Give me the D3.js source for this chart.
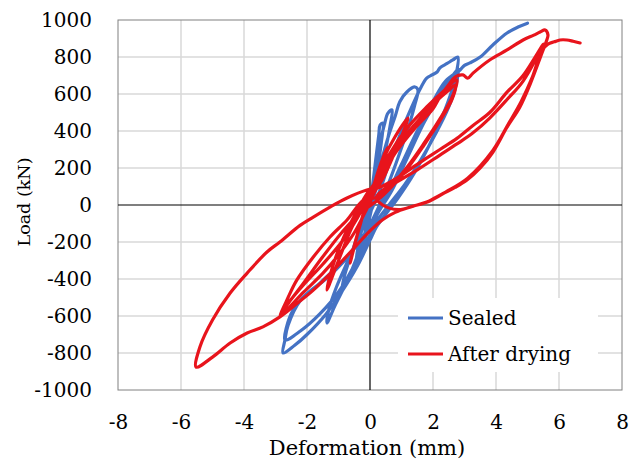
<!DOCTYPE html>
<html><head><meta charset="utf-8">
<script src="https://cdn.jsdelivr.net/npm/d3@7/dist/d3.min.js"></script>
<style>
html,body{margin:0;padding:0;background:#fff;}
text{font-family:"DejaVu Serif",serif;fill:#000;}
</style></head>
<body>
<svg id="chart" width="636" height="465"></svg>
<script>
// ---- data ----
const xTicks = [-8,-6,-4,-2,0,2,4,6,8];
const yTicks = [-1000,-800,-600,-400,-200,0,200,400,600,800,1000];
const seriesNames = ["Sealed","After drying"];

const sealedDeformation = [0,0.1,0.2,0.28,0.32,0.41,
 0.36,0.26,0.12,0.02,-0.12,-0.28,-0.45,
 -0.4,-0.28,-0.12,0.02,
 0.15,0.3,0.45,0.57,0.7,
 0.64,0.52,0.32,0.12,0,-0.25,-0.55,-0.9,
 -0.82,-0.62,-0.38,-0.12,0.1,
 0.35,0.6,0.8,0.95,1.17,1.43,1.52,
 1.42,1.22,0.92,0.55,0.25,0,-0.35,-0.75,-1.1,-1.37,
 -1.3,-1.08,-0.75,-0.4,-0.05,0.25,
 0.6,1.0,1.35,1.6,1.8,1.97,2.13,2.22,2.45,2.63,2.79,
 2.75,2.6,2.3,1.9,1.4,0.9,0.5,0.2,0,-0.4,-0.9,-1.4,-2.0,-2.4,-2.76,
 -2.7,-2.6,-2.2,-1.59,-1.05,-0.54,0,0.3,0.7,
 1.2,1.7,2.2,2.55,2.8,
 2.72,2.5,2.1,1.6,1.1,0.6,0.2,0,-0.45,-1.0,-1.6,-2.2,-2.7,
 -2.65,-2.45,-2.0,-1.4,-0.8,-0.3,0.1,0.5,
 1.0,1.5,2.0,2.4,2.86,3.0,3.17,3.5,3.9,4.35,4.7,5.0];
const sealedLoad = [0,130,270,380,432,443,
 340,220,90,-20,-120,-230,-320,
 -250,-150,-50,40,
 160,320,430,497,514,
 430,320,170,40,-60,-200,-340,-470,
 -390,-280,-160,-40,60,
 230,380,480,560,611,638,622,
 540,420,270,100,-20,-110,-260,-420,-540,-638,
 -560,-450,-320,-190,-60,50,
 220,400,540,630,686,703,719,741,765,784,800,
 720,620,480,330,170,40,-50,-120,-190,-330,-470,-590,-700,-760,-800,
 -730,-650,-514,-422,-335,-243,-119,-30,80,
 260,440,590,680,735,
 640,530,390,240,110,0,-90,-160,-310,-470,-590,-680,-730,
 -660,-570,-480,-400,-300,-190,-80,40,
 220,400,560,670,730,755,768,800,865,930,962,983];

const dryDeformation = [0,0.2,0.4,0.55,
 0.42,0.22,0,-0.2,-0.4,-0.63,
 -0.5,-0.3,-0.1,0.1,
 0.4,0.8,1.2,
 1.0,0.7,0.4,0.1,-0.2,-0.6,-1.0,-1.37,
 -1.2,-0.9,-0.5,-0.1,0.2,
 0.6,1.2,1.8,2.3,2.76,
 2.6,2.2,1.7,1.2,0.7,0.2,-0.2,-0.73,-1.27,-1.8,-2.32,-2.6,-2.86,
 -2.6,-2.1,-1.5,-1.0,-0.5,-0.1,0.2,
 0.8,1.5,2.1,2.5,2.72,
 2.6,2.2,1.7,1.2,0.7,0.2,-0.3,-0.9,-1.5,-2.1,-2.5,-2.8,
 -2.55,-2.1,-1.5,-0.9,-0.4,0,0.3,
 0.8,1.4,2.0,2.22,2.5,2.7,2.95,3.1,3.27,3.8,4.35,4.86,5.2,5.4,5.56,5.65,5.59,
 5.46,5.1,4.76,4.35,3.9,3.5,3.08,2.7,2.32,1.8,1.3,0.8,0.4,0,
 -0.6,-1.2,-1.8,-2.3,-2.86,-3.4,-3.9,-4.44,-5.0,-5.52,
 -5.4,-5.0,-4.44,-3.9,-3.27,-2.86,-2.22,-1.8,-1.27,-0.73,-0.1,
 0.3,0.8,1.5,2.22,2.76,3.27,3.8,4.35,4.86,5.5,
 4.86,4.35,3.8,3.27,2.76,2.22,1.5,0.8,0.4,0.2,0.4,0.9,1.4,1.9,
 2.4,3.1,3.9,4.4,4.8,5.15,5.46,5.65,5.85,6.03,6.25,6.45,6.67];
const dryLoad = [0,150,250,310,
 220,120,50,-40,-160,-314,
 -220,-100,20,100,
 240,370,470,
 370,250,140,60,0,-130,-300,-459,
 -340,-200,-60,60,130,
 270,420,530,610,676,
 580,460,330,210,110,40,27,-81,-173,-281,-405,-500,-605,
 -560,-470,-370,-270,-150,-20,90,
 300,450,560,620,650,
 570,450,320,200,100,20,-40,-150,-280,-420,-510,-580,
 -520,-430,-320,-200,-70,60,130,
 280,410,520,584,650,692,703,686,713,784,838,892,918,935,946,919,881,
 822,660,530,420,285,200,135,95,62,16,-10,-40,-80,-140,
 -250,-360,-460,-530,-605,-659,-692,-746,-822,-876,
 -768,-622,-476,-368,-254,-200,-110,-65,-11,38,81,
 95,140,220,300,360,430,500,610,700,870,
 670,570,470,390,330,270,190,120,80,40,0,-25,-5,22,
 70,145,295,440,560,690,835,870,882,892,892,885,876];

const colors = ["#4472c4","#e8141c"];

// ---- chart ----
const svg = d3.select("#chart");
const L = 118, R = 622, T = 20, B = 390;
const x = d3.scaleLinear().domain([-8,8]).range([L,R]);
const y = d3.scaleLinear().domain([-1000,1000]).range([B,T]);

// gridlines
const grid = svg.append("g");
grid.selectAll("line.v").data(xTicks.filter(d=>d!==0 && d!==-8 && d!==8)).join("line")
  .attr("x1",d=>x(d)).attr("x2",d=>x(d)).attr("y1",T).attr("y2",B)
  .attr("stroke","#d9d9d9").attr("stroke-width",1.5);
grid.selectAll("line.h").data(yTicks.filter(d=>d!==0 && d!==1000 && d!==-1000)).join("line")
  .attr("x1",L).attr("x2",R).attr("y1",d=>y(d)).attr("y2",d=>y(d))
  .attr("stroke","#d9d9d9").attr("stroke-width",1.5);

// plot border
svg.append("rect").attr("x",L).attr("y",T).attr("width",R-L).attr("height",B-T)
  .attr("fill","none").attr("stroke","#808080").attr("stroke-width",1);

// legend background
svg.append("rect").attr("x",398).attr("y",298).attr("width",200).attr("height",74).attr("fill","#fff");

// zero axes
svg.append("line").attr("x1",L).attr("x2",R).attr("y1",y(0)).attr("y2",y(0))
  .attr("stroke","#000").attr("stroke-width",1.2);
svg.append("line").attr("x1",x(0)).attr("x2",x(0)).attr("y1",T).attr("y2",B)
  .attr("stroke","#000").attr("stroke-width",1.2);

// axes labels via d3 axes
const FONT = '"DejaVu Serif",serif';
const fmt = d => String(d);
const yAxis = d3.axisLeft(y).tickValues(yTicks).tickSize(0).tickPadding(26).tickFormat(fmt);
const gy = svg.append("g").attr("transform",`translate(${L},0)`).call(yAxis);
gy.select(".domain").remove();
gy.selectAll("text").style("font-size","20px").style("font-family",FONT).attr("fill","#000");

const xAxis = d3.axisBottom(x).tickValues(xTicks).tickSize(0).tickPadding(25).tickFormat(fmt);
const gx = svg.append("g").attr("transform",`translate(0,${B})`).call(xAxis);
gx.select(".domain").remove();
gx.selectAll("text").style("font-size","20px").style("font-family",FONT).attr("fill","#000");

svg.append("text").attr("x",(L+R)/2-3).attr("y",448).attr("dy","0.35em")
  .attr("text-anchor","middle").style("font-size","21px").text("Deformation (mm)");
svg.append("text").attr("transform","translate(24,202) rotate(-90)").attr("dy","0.35em")
  .attr("text-anchor","middle").style("font-size","17.5px").text("Load (kN)");

// data lines
const line = d3.line().x(d=>x(d[0])).y(d=>y(d[1])).curve(d3.curveCatmullRom.alpha(0.5));
const series = [
  d3.zip(sealedDeformation, sealedLoad),
  d3.zip(dryDeformation, dryLoad)
];
series.forEach((s,i)=>{
  svg.append("path").datum(s).attr("d",line).attr("fill","none")
    .attr("stroke",colors[i]).attr("stroke-width",3.2)
    .attr("stroke-linejoin","round").attr("stroke-linecap","round");
});

// legend
const lg = svg.append("g");
seriesNames.forEach((n,i)=>{
  const yy = 318 + i*36;
  lg.append("line").attr("x1",408).attr("x2",443).attr("y1",yy).attr("y2",yy)
    .attr("stroke",colors[i]).attr("stroke-width",3);
  lg.append("text").attr("x",448).attr("y",yy).attr("dy","0.35em").style("font-size","20px").text(n);
});
</script>
</body></html>
